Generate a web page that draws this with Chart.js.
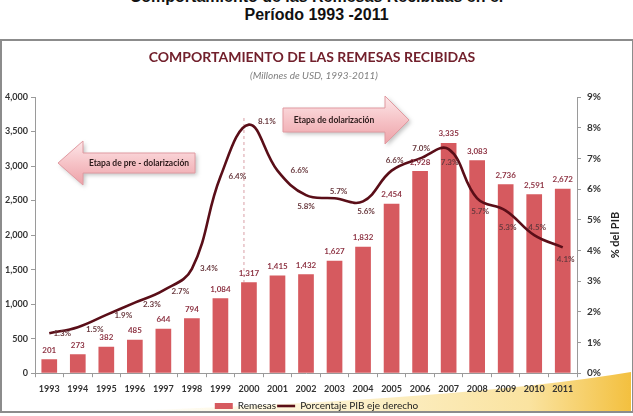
<!DOCTYPE html>
<html>
<head>
<meta charset="utf-8">
<script src="https://cdn.jsdelivr.net/npm/chart.js@4"></script>
<style>
  html, body { margin: 0; padding: 0; background: #fff; }
  #page { position: relative; width: 633px; height: 416px; overflow: hidden; }
  #head {
    position: absolute; left: 0; top: -12px; width: 633px; text-align: center;
    font: bold 16px "Liberation Sans", Arial, sans-serif; line-height: 18px; color: #111;
  }
  #box {
    position: absolute; left: 0; top: 39px; width: 630px; height: 370px;
    border: 2px solid #8c8c8c;
  }
  #chart { position: absolute; left: 0; top: 0; }
</style>
</head>
<body>
<div id="page">
  <div id="head">Comportamiento de las Remesas Recibidas en el<br>Período 1993 -2011</div>
  <div id="box"></div>
  <canvas id="chart" width="633" height="416"></canvas>
</div>
<script>
// Datos
const years = ['1993', '1994', '1995', '1996', '1997', '1998', '1999', '2000', '2001', '2002',
               '2003', '2004', '2005', '2006', '2007', '2008', '2009', '2010', '2011'];
const remesas = [201, 273, 382, 485, 644, 794, 1084, 1317, 1415, 1432,
                 1627, 1832, 2454, 2928, 3335, 3083, 2736, 2591, 2672];
const pctPIB = [1.3, 1.5, 1.9, 2.3, 2.7, 3.4, 6.4, 8.1, 6.6, 5.8,
                5.7, 5.6, 6.6, 7.0, 7.3, 5.7, 5.3, 4.5, 4.1];
const remesasMax = 4000;
const remesasStep = 500;
const pctMax = 9;

// Décalage des étiquettes de pourcentage (comme placées à la main dans Excel)
const pctLabelShift = [
    [13, 0], [17, 2], [17, 1], [17, 2], [17, 1], [17, 0], [17, 0], [18, -3], [22, 0], [0, 11],
    [4, -7], [3, 10], [3, -10], [1, -10], [1, 13], [3, 13], [2, 17], [3, -8], [3, 12]
];

const FONT = 'Lato, "Open Sans", sans-serif';
const BAR_RED = '#D65A5F';
const LINE_DARK = '#5A0E18';

// Flèches "Etapa de ..."
function drawArrow(ctx, tail, base, tip, cy, bodyH, headH, text) {
    ctx.save();
    ctx.beginPath();
    ctx.moveTo(tail, cy - bodyH);
    ctx.lineTo(base, cy - bodyH);
    ctx.lineTo(base, cy - headH);
    ctx.lineTo(tip, cy);
    ctx.lineTo(base, cy + headH);
    ctx.lineTo(base, cy + bodyH);
    ctx.lineTo(tail, cy + bodyH);
    ctx.closePath();
    const g = ctx.createLinearGradient(0, cy - headH, 0, cy + headH);
    g.addColorStop(0, '#FDE7E9');
    g.addColorStop(0.5, '#F6C3C7');
    g.addColorStop(1, '#EDA2A8');
    ctx.shadowColor = 'rgba(0,0,0,0.25)';
    ctx.shadowBlur = 4;
    ctx.shadowOffsetX = 2;
    ctx.shadowOffsetY = 2;
    ctx.fillStyle = g;
    ctx.fill();
    ctx.shadowColor = 'transparent';
    ctx.strokeStyle = '#E19AA1';
    ctx.lineWidth = 1;
    ctx.stroke();
    ctx.fillStyle = '#2b1a1a';
    ctx.font = 'bold 8.5px ' + FONT;
    ctx.textAlign = 'center';
    ctx.textBaseline = 'middle';
    ctx.fillText(text, (tail + base) / 2, cy);
    ctx.restore();
}

const decorPlugin = {
    id: 'decor',
    beforeDraw(chart) {
        const ctx = chart.ctx;
        ctx.save();
        ctx.beginPath();
        ctx.moveTo(120, 411);
        ctx.quadraticCurveTo(470, 399, 631, 372);
        ctx.lineTo(631, 411);
        ctx.closePath();
        const g = ctx.createLinearGradient(120, 0, 631, 0);
        g.addColorStop(0, 'rgba(253,245,215,0)');
        g.addColorStop(0.35, '#FDF4D6');
        g.addColorStop(0.8, '#FAE3A0');
        g.addColorStop(1, '#F3C03F');
        ctx.fillStyle = g;
        ctx.fill();

        // titre interne
        ctx.textAlign = 'center';
        ctx.textBaseline = 'middle';
        ctx.fillStyle = '#72202C';
        ctx.font = 'bold 14px ' + FONT;
        ctx.fillText('COMPORTAMIENTO DE LAS REMESAS RECIBIDAS', 312, 57);
        ctx.fillStyle = '#7f7f7f';
        ctx.font = 'italic 10px ' + FONT;
        ctx.fillText('(Millones de USD, 1993-2011)', 314, 76);
        ctx.restore();
    },
    beforeDatasetsDraw(chart) {
        // ligne pointillée de l'an 2000
        const ctx = chart.ctx;
        const bar = chart.getDatasetMeta(1).data[7];
        ctx.save();
        ctx.strokeStyle = '#D9A0A6';
        ctx.lineWidth = 1;
        ctx.setLineDash([3, 3]);
        ctx.beginPath();
        ctx.moveTo(bar.x - 5, chart.chartArea.top + 21);
        ctx.lineTo(bar.x - 5, bar.y);
        ctx.stroke();
        ctx.restore();
    },
    afterDatasetsDraw(chart) {
        const ctx = chart.ctx;
        ctx.save();
        ctx.textAlign = 'center';
        ctx.textBaseline = 'middle';
        ctx.font = 'bold 8px ' + FONT;

        // valeurs des barres
        ctx.fillStyle = '#8E3444';
        chart.getDatasetMeta(1).data.forEach((bar, i) => {
            ctx.fillText(remesas[i].toLocaleString('en-US'), bar.x, bar.y - 9);
        });

        // valeurs de la courbe
        ctx.fillStyle = '#6A3A3F';
        chart.getDatasetMeta(0).data.forEach((pt, i) => {
            const s = pctLabelShift[i];
            ctx.fillText(pctPIB[i].toFixed(1) + '%', pt.x + s[0], pt.y + s[1]);
        });

        // titre de l'axe droit, lu de bas en haut
        const area = chart.chartArea;
        ctx.translate(615, (area.top + area.bottom) / 2);
        ctx.rotate(-Math.PI / 2);
        ctx.fillStyle = '#222';
        ctx.font = 'bold 11px ' + FONT;
        ctx.fillText('% del PIB', 0, 0);
        ctx.restore();
    },
    afterDraw(chart) {
        const ctx = chart.ctx;
        drawArrow(ctx, 195, 83, 58, 163, 10, 22, 'Etapa de pre - dolarización');
        drawArrow(ctx, 283, 385, 409, 120, 12, 24, 'Etapa de dolarización');
    }
};

const axisGray = '#9a9a9a';

new Chart(document.getElementById('chart').getContext('2d'), {
    type: 'bar',
    data: {
        labels: years,
        datasets: [{
            type: 'line',
            label: 'Porcentaje PIB eje derecho',
            data: pctPIB,
            yAxisID: 'y1',
            borderColor: LINE_DARK,
            backgroundColor: LINE_DARK,
            borderWidth: 2.6,
            tension: 0.4,
            pointRadius: 0,
            pointStyle: 'line',
            order: 0
        }, {
            label: 'Remesas',
            data: remesas,
            yAxisID: 'y',
            backgroundColor: BAR_RED,
            barPercentage: 0.55,
            categoryPercentage: 1,
            pointStyle: 'rect',
            order: 1
        }]
    },
    options: {
        responsive: false,
        animation: false,
        layout: {
            padding: { top: 97, bottom: -5, left: 0, right: 0 }
        },
        plugins: {
            title: { display: false },
            tooltip: { enabled: false },
            legend: {
                position: 'bottom',
                labels: {
                    usePointStyle: true,
                    pointStyleWidth: 18,
                    boxHeight: 6,
                    padding: 1,
                    color: '#222',
                    font: { family: FONT, size: 10 },
                    sort: (a, b) => b.datasetIndex - a.datasetIndex
                }
            }
        },
        scales: {
            x: {
                offset: true,
                grid: {
                    display: true,
                    drawOnChartArea: false,
                    offset: true,
                    tickLength: 4,
                    color: axisGray
                },
                border: { color: axisGray },
                ticks: {
                    padding: 6,
                    color: '#333',
                    maxRotation: 0,
                    font: { family: FONT, size: 9, weight: 'bold' }
                }
            },
            y: {
                position: 'left',
                min: 0,
                max: remesasMax,
                grid: { drawOnChartArea: false, tickLength: 4, color: axisGray },
                border: { color: axisGray },
                ticks: {
                    stepSize: remesasStep,
                    padding: 3,
                    color: '#333',
                    font: { family: FONT, size: 9, weight: 'bold' },
                    callback: v => v.toLocaleString('en-US')
                },
                afterFit: scale => { scale.width = 35; }
            },
            y1: {
                position: 'right',
                min: 0,
                max: pctMax,
                grid: { drawOnChartArea: false, tickLength: 4, color: axisGray },
                border: { color: axisGray },
                ticks: {
                    stepSize: 1,
                    padding: 6,
                    color: '#333',
                    font: { family: FONT, size: 10, weight: 'bold' },
                    callback: v => v + '%'
                },
                afterFit: scale => { scale.width = 56; }
            }
        }
    },
    plugins: [decorPlugin]
});
</script>
</body>
</html>
